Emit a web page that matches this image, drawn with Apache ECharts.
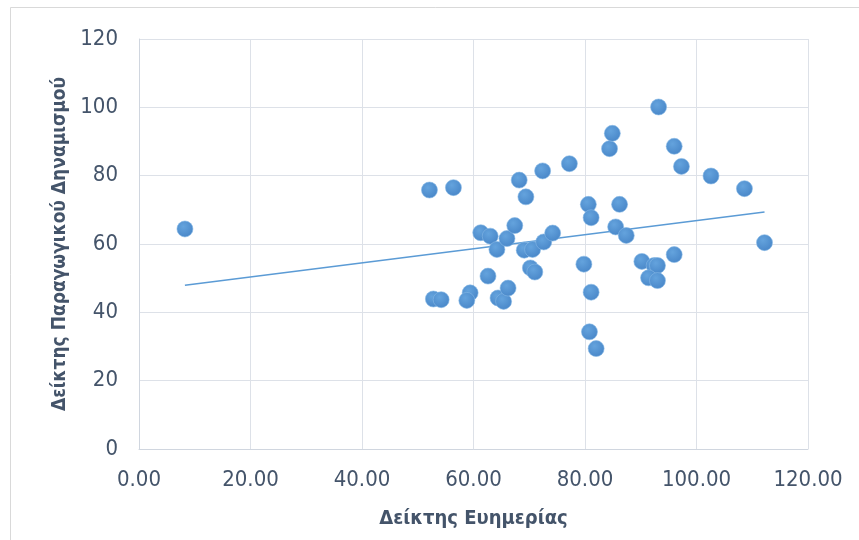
<!DOCTYPE html>
<html>
<head>
<meta charset="utf-8">
<script src="https://cdn.jsdelivr.net/npm/echarts@6/dist/echarts.min.js"></script>
<style>
html,body{margin:0;padding:0;background:#fff;}
#c{width:859px;height:540px;}
</style>
</head>
<body>
<div id="c"></div>
<script>
// Δείκτης Ευημερίας (x) values
var xValues = [8.24, 52.1, 56.4, 52.8, 54.2, 59.4, 58.8, 61.3, 63.0, 62.6, 64.2, 64.4, 65.4, 66.2, 66.0, 67.4, 68.2, 69.4, 69.1, 70.6, 70.2, 71.0, 72.6, 74.2, 72.4, 77.2, 79.8, 80.6, 81.1, 81.1, 80.8, 82.0, 84.4, 84.9, 85.5, 86.2, 87.4, 90.2, 92.4, 93.0, 91.4, 93.0, 93.2, 96.0, 97.3, 96.0, 102.6, 108.6, 112.2];
// Δείκτης Παραγωγικού Δηναμισμού (y) values
var yValues = [64.4, 75.8, 76.5, 43.9, 43.7, 45.7, 43.5, 63.3, 62.3, 50.6, 58.4, 44.2, 43.2, 47.1, 61.6, 65.4, 78.7, 73.8, 58.2, 58.4, 53.0, 51.8, 60.6, 63.2, 81.4, 83.5, 54.1, 71.6, 67.7, 45.9, 34.3, 29.4, 87.9, 92.4, 65.0, 71.6, 62.5, 54.9, 53.7, 53.7, 50.1, 49.3, 100.1, 88.6, 82.7, 56.9, 79.9, 76.2, 60.4];
// linear trendline endpoints
var trendX = [8.24, 112.2];
var trendY = [47.9, 69.4];

var xTitle = 'Δείκτης Ευημερίας';
var yTitle = 'Δείκτης Παραγωγικού Δηναμισμού';

var FONT = '"DejaVu Sans Condensed","Noto Sans",sans-serif';
var TXT = '#44546a';
var GRID = '#dde1e8';

var points = xValues.map(function(x, i){ return [x, yValues[i]]; });
var trend = trendX.map(function(x, i){ return [x, trendY[i]]; });

var chart = echarts.init(document.getElementById('c'), null, {renderer:'canvas'});
chart.setOption({
  animation:false,
  backgroundColor:'#ffffff',
  graphic:[{type:'rect', shape:{x:10.5,y:7.5,width:900,height:600}, style:{fill:'none',stroke:'#d9d9d9',lineWidth:1}, silent:true}],
  grid:{left:139, top:39, width:669, height:410, containLabel:false},
  xAxis:{
    type:'value', min:0, max:120, interval:20,
    name:xTitle, nameLocation:'middle', nameGap:60,
    nameTextStyle:{fontFamily:FONT, fontSize:20, fontWeight:'bold', color:TXT},
    axisLine:{show:true, lineStyle:{color:'#d0d6df', width:1}},
    axisTick:{show:false},
    splitLine:{show:true, lineStyle:{color:GRID, width:1}},
    axisLabel:{fontFamily:FONT, fontSize:22, color:TXT, margin:20,
      formatter:function(v){ return v.toFixed(2); }}
  },
  yAxis:{
    type:'value', min:0, max:120, interval:20,
    name:yTitle, nameLocation:'middle', nameGap:69, nameRotate:90,
    nameTextStyle:{fontFamily:FONT, fontSize:19, fontWeight:'bold', color:TXT},
    axisLine:{show:true, lineStyle:{color:'#d0d6df', width:1}},
    axisTick:{show:false},
    splitLine:{show:true, lineStyle:{color:GRID, width:1}},
    axisLabel:{fontFamily:FONT, fontSize:22, color:TXT, margin:21}
  },
  series:[
    {
      type:'scatter', data:points, symbol:'circle', symbolSize:16, z:3,
      itemStyle:{
        opacity:1,
        color:new echarts.graphic.RadialGradient(0.4,0.35,0.7,[{offset:0,color:'#64a3dd'},{offset:1,color:'#4886c8'}]),
        borderColor:'#86b8e6', borderWidth:0.6
      }
    },
    {
      type:'line', data:trend, symbol:'none', z:2,
      lineStyle:{color:'#5b9bd5', width:1.5}
    }
  ]
});
</script>
</body>
</html>
